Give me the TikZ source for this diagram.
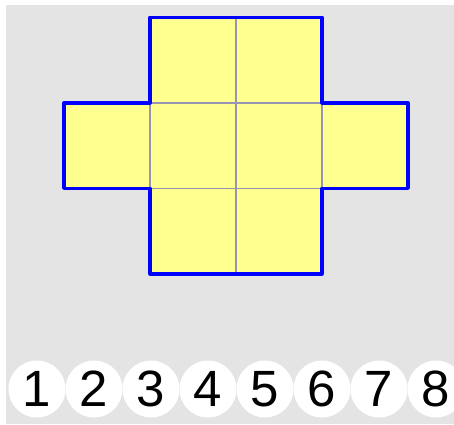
\documentclass[tikz,border=0pt]{standalone}
\usepackage{fontspec}
\setmainfont{Liberation Sans}
\definecolor{bgGray}{RGB}{228,228,228}
\definecolor{cYellow}{RGB}{255,255,144}
\definecolor{gLine}{RGB}{150,150,180}
\definecolor{oBlue}{RGB}{0,0,255}

\begin{document}
\begin{tikzpicture}[x=1pt,y=-1pt,
  c/.style={draw=gLine,line width=1.5pt,fill=cYellow,minimum width=86pt,minimum height=85.5pt,inner sep=0pt,outer sep=0pt},
  n/.style={circle,fill=white,minimum size=57pt,inner sep=0pt,font=\fontsize{51}{51}\selectfont}]
  \useasboundingbox (0,0) rectangle (454,424);
  \fill[bgGray] (6,5) rectangle (454,424);
  % cells of the cross
  \node[c] (c12) at (193,60) {};
  \node[c] (c13) at (279,60) {};
  \foreach \i/\x in {1/107,2/193,3/279,4/365}
    \node[c] (c2\i) at (\x,145.5) {};
  \node[c] (c32) at (193,231) {};
  \node[c] (c33) at (279,231) {};
  % outline
  \draw[oBlue,line width=3.5pt,line join=round]
    (c12.north west) -- (c13.north east) -- (c13.south east) -- (c24.north east)
    -- (c24.south east) -- (c33.north east) -- (c33.south east) -- (c32.south west)
    -- (c32.north west) -- (c21.south west) -- (c21.north west) -- (c12.south west) -- cycle;
  % numbers
  \foreach \k in {1,...,8}
    \node[n] (d\k) at ({37+57*(\k-1)},389) {\k};
\end{tikzpicture}
\end{document}
